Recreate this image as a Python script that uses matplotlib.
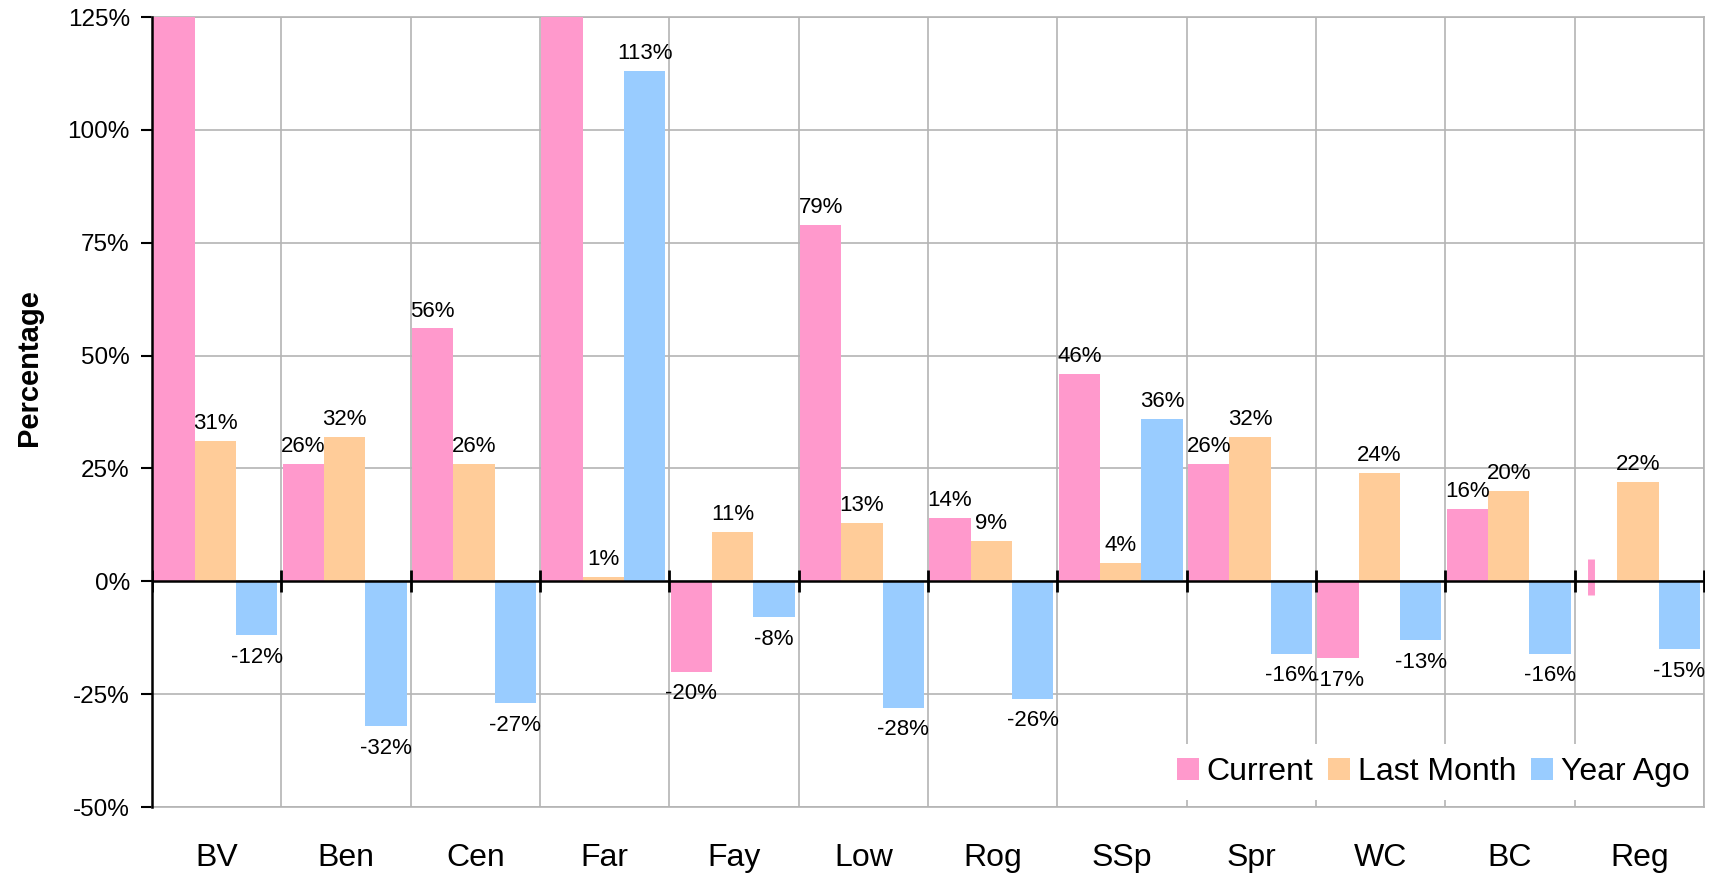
import numpy as np
import matplotlib
matplotlib.use("Agg")
import matplotlib.pyplot as plt

plt.rcParams["font.family"] = ["Liberation Sans", "DejaVu Sans"]

categories = ["BV", "Ben", "Cen", "Far", "Fay", "Low", "Rog", "SSp", "Spr", "WC", "BC", "Reg"]
# BV and Far current run off the top of the chart (value not shown)
current = [160, 26, 56, 150, -20, 79, 14, 46, 26, -17, 16, np.nan]
last_month = [31, 32, 26, 1, 11, 13, 9, 4, 32, 24, 20, 22]
year_ago = [-12, -32, -27, 113, -8, -28, -26, 36, -16, -13, -16, -15]
reg_current_span = [-3, 5]
series_names = ["Current", "Last Month", "Year Ago"]
colors = ["#FF99CC", "#FFCC99", "#99CCFF"]
ymin, ymax = -50, 125

fig = plt.figure(figsize=(17.12, 8.74), dpi=100)
ax = fig.add_axes([152/1712, 1-807/874, (1704-152)/1712, 790/874])

x = np.arange(len(categories))
w = 0.32
offsets = [-0.33, -0.01, 0.31]
grid_c = "#b4b4b4"

for vals, off, col, name in zip([current, last_month, year_ago], offsets, colors, series_names):
    vals = np.array(vals, dtype=float)
    ax.bar(x + off, np.nan_to_num(vals), w, color=col, label=name, zorder=3)
    for xi, v in zip(x + off, vals):
        if np.isnan(v) or v > ymax or v < ymin:
            continue
        if v >= 0:
            ax.annotate(f"{v:.0f}%", (xi, v), xytext=(0, 5), textcoords="offset points",
                        ha="center", va="bottom", fontsize=16, zorder=5)
        else:
            ax.annotate(f"{v:.0f}%", (xi, v), xytext=(0, -8.5), textcoords="offset points",
                        ha="center", va="top", fontsize=16, zorder=5)

# tiny sliver for Reg current
ax.vlines(x[-1] + offsets[0] - 0.04, reg_current_span[0], reg_current_span[1],
          color=colors[0], lw=5, zorder=3)

ax.set_xlim(-0.5, len(categories) - 0.5)
ax.set_ylim(ymin, ymax)
ax.set_yticks(np.arange(ymin, ymax + 1, 25))
ax.set_yticklabels([f"{t}%" for t in range(ymin, ymax + 1, 25)])
ax.tick_params(axis="y", labelsize=17.5, length=8, width=1.5, pad=8, direction="out")
ax.set_xticks(x)
ax.set_xticklabels(categories)
ax.tick_params(axis="x", labelsize=23, length=0, pad=26)

for b in np.arange(-0.5, len(categories), 1.0):
    ax.axvline(b, color=grid_c, lw=1.2, zorder=1)
for t in range(ymin, ymax + 1, 25):
    ax.axhline(t, color=grid_c, lw=1.2, zorder=1)

ax.axhline(0, color="black", lw=1.8, zorder=4)
ax.plot(np.arange(-0.5, len(categories), 1.0), np.zeros(len(categories) + 1),
        linestyle="none", marker="|", markersize=16, mew=2, color="black", zorder=4)

for s in ["top", "right", "bottom"]:
    ax.spines[s].set_color(grid_c)
    ax.spines[s].set_linewidth(1.2)
ax.spines["left"].set_linewidth(1.8)
ax.spines["left"].set_zorder(6)

ax.set_ylabel("Percentage", fontsize=21, fontweight="bold")
ax.yaxis.set_label_coords(-0.070, 0.556)

leg = ax.legend(loc="lower right", bbox_to_anchor=(0.999, 0.009), ncol=3, fontsize=23,
                frameon=True, fancybox=False, edgecolor="none", facecolor="white",
                framealpha=1, borderaxespad=0, handlelength=0.7, handleheight=0.7,
                handletextpad=0.25, columnspacing=0.44, borderpad=0.4)
leg.set_zorder(7)

fig.savefig("out.png", dpi=100)
